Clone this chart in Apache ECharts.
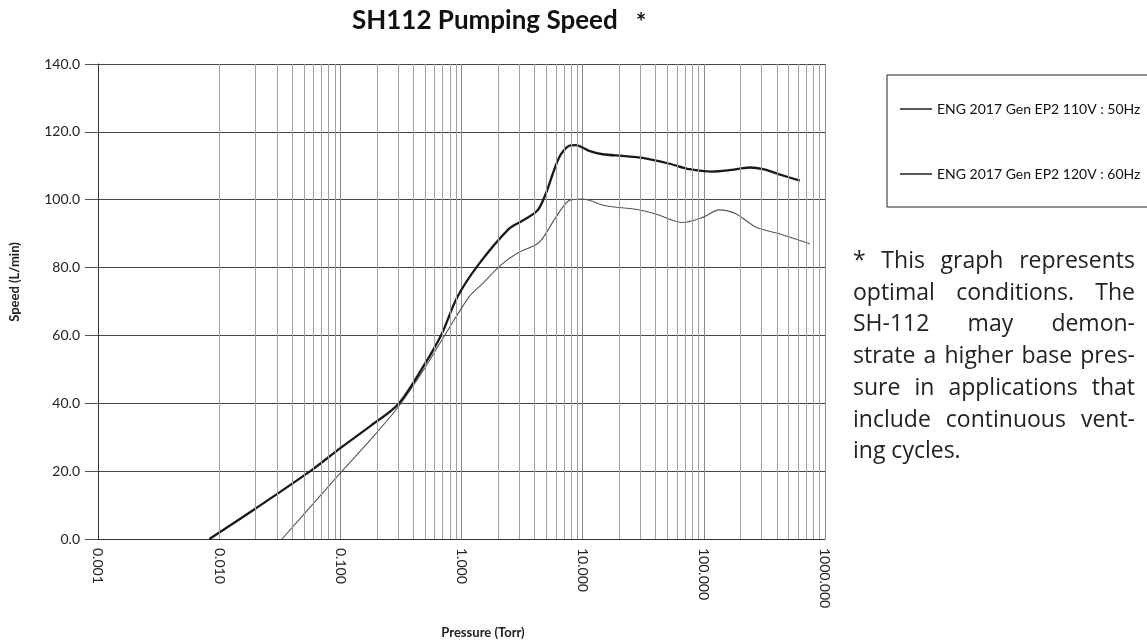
<!DOCTYPE html>
<html>
<head>
<meta charset="utf-8">
<script src="https://cdn.jsdelivr.net/npm/echarts@6/dist/echarts.min.js"></script>
<style>
  html, body { margin: 0; padding: 0; background: #fff; }
  #main { width: 1147px; height: 643px; }
</style>
</head>
<body>
<div id="main"></div>
<script>
// pressure (Torr) / speed (L/min)
var p50 = [0.033, 0.06, 0.102, 0.18, 0.30, 0.5, 0.74, 1.15, 1.48, 2.17, 2.98, 4.37, 6.0, 7.7, 9.96, 15.5, 27.5, 40, 67, 98, 134, 185, 270, 426, 750];
var s50 = [0, 10.5, 19.8, 29.5, 38.9, 50.5, 60.5, 71.3, 75.2, 81.1, 84.5, 87.4, 94.8, 99.7, 100.2, 98.2, 97.2, 95.8, 93.3, 94.8, 97.0, 95.8, 91.9, 89.9, 87.0];
var p60 = [0.0083, 0.02, 0.058, 0.1, 0.18, 0.3, 0.5, 0.69, 0.92, 1.39, 2.46, 3.18, 4.23, 4.95, 6.38, 7.73, 8.75, 11.3, 14.6, 21.4, 31.3, 52, 76, 117.7, 162, 240, 309, 426, 620];
var s60 = [0, 9.0, 20.3, 26.8, 33.5, 39.7, 51.7, 60.6, 71.2, 81.0, 91.4, 93.8, 96.8, 101.7, 112.4, 115.9, 116.1, 114.4, 113.4, 112.9, 112.3, 110.6, 109.0, 108.3, 108.7, 109.5, 109.0, 107.4, 105.6];
var names = ['ENG 2017 Gen EP2 110V : 50Hz', 'ENG 2017 Gen EP2 120V : 60Hz'];
var yTicks = [0, 20, 40, 60, 80, 100, 120, 140];

var note = [
  '* This graph represents',
  'optimal conditions. The',
  'SH-112 may demon-',
  'strate a higher base pres-',
  'sure in applications that',
  'include continuous vent-',
  'ing cycles.'
];

function pairs(xs, ys) {
  return xs.map(function (x, i) { return [x, ys[i]]; });
}

// minor log gridlines 2..9 per decade
var minor = [];
for (var e = -3; e < 3; e++) {
  for (var m = 2; m <= 9; m++) {
    minor.push({ xAxis: +(m * Math.pow(10, e)).toPrecision(3) });
  }
}

// justified note text, font sized so the widest line fits the column
var noteLeft = 853, noteWidth = 282, noteTop = 250, noteLH = 31.7;
var ctx = document.createElement('canvas').getContext('2d');
ctx.font = '22px "Open Sans"';
var widest = Math.max.apply(null, note.map(function (l) { return ctx.measureText(l).width; }));
var noteSize = Math.min(23, 22 * noteWidth / widest);
var noteFont = noteSize.toFixed(1) + 'px "Open Sans"';
ctx.font = noteFont;
var noteEls = [];
note.forEach(function (line, li) {
  var words = line.split(' ');
  var y = noteTop + li * noteLH;
  if (li === note.length - 1 || words.length < 2) {
    noteEls.push({ type: 'text', left: noteLeft, top: y, style: { text: line, font: noteFont, fill: '#222' } });
    return;
  }
  var widths = words.map(function (w) { return ctx.measureText(w).width; });
  var total = widths.reduce(function (a, b) { return a + b; }, 0);
  var gap = (noteWidth - total) / (words.length - 1);
  var x = noteLeft;
  words.forEach(function (w, wi) {
    noteEls.push({ type: 'text', left: x, top: y, style: { text: w, font: noteFont, fill: '#222' } });
    x += widths[wi] + gap;
  });
});

var chart = echarts.init(document.getElementById('main'));
var option = {
  animation: false,
  backgroundColor: '#fff',
  graphic: [
    { type: 'text', x: 352, y: 8, style: { text: 'SH112 Pumping Speed', font: 'bold 26px Lato', fill: '#111' } },
    { type: 'text', x: 636, y: 11, style: { text: '*', font: 'bold 24px Lato', fill: '#111' } },
    { type: 'text', x: 15, y: 282, rotation: Math.PI / 2,
      style: { text: 'Speed (L/min)', font: 'bold 13px Lato', fill: '#222', textAlign: 'center', textVerticalAlign: 'middle' } },
    { type: 'text', x: 483, y: 633,
      style: { text: 'Pressure (Torr)', font: 'bold 13px Lato', fill: '#222', textAlign: 'center', textVerticalAlign: 'middle' } }
  ].concat(noteEls),
  legend: {
    orient: 'vertical',
    left: 887,
    top: 75,
    padding: [27, 40, 26, 13],
    itemGap: 51,
    icon: 'rect',
    itemWidth: 32,
    itemHeight: 1.5,
    borderColor: '#222',
    borderWidth: 1,
    textStyle: { fontSize: 14, fontFamily: 'Lato', color: '#111' },
    data: names
  },
  grid: { left: 98, right: 322, top: 64, bottom: 104 },
  xAxis: {
    type: 'log',
    logBase: 10,
    min: 0.001,
    max: 1000,
    axisLine: { lineStyle: { color: '#333' } },
    axisTick: { show: false },
    axisLabel: {
      rotate: -90,
      fontSize: 14,
      fontFamily: 'Lato',
      color: '#222',
      margin: 9,
      formatter: function (v) { return v.toFixed(3); }
    },
    splitLine: { show: true, lineStyle: { color: '#888', width: 1 } }
  },
  yAxis: {
    type: 'value',
    min: 0,
    max: 140,
    interval: 20,
    axisLine: { show: true, lineStyle: { color: '#333' } },
    axisTick: { show: true, length: 13, lineStyle: { color: '#555' } },
    axisLabel: {
      fontSize: 14,
      fontFamily: 'Lato',
      color: '#222',
      margin: 18,
      formatter: function (v) { return yTicks.indexOf(v) >= 0 ? v.toFixed(1) : ''; }
    },
    splitLine: { show: true, lineStyle: { color: '#444', width: 1 } }
  },
  series: [
    {
      name: names[0],
      type: 'line',
      data: pairs(p50, s50),
      smooth: 0.3,
      symbol: 'none',
      lineStyle: { color: '#555', width: 1.1 },
      itemStyle: { color: '#222' },
      markLine: {
        silent: true,
        symbol: ['none', 'none'],
        label: { show: false },
        lineStyle: { color: '#a0a0a0', width: 1, type: 'solid' },
        data: minor
      },
      z: 3
    },
    {
      name: names[1],
      type: 'line',
      data: pairs(p60, s60),
      smooth: 0.3,
      symbol: 'none',
      lineStyle: { color: '#1a1a1a', width: 2.3 },
      itemStyle: { color: '#222' },
      z: 4
    }
  ]
};
chart.setOption(option);
</script>
</body>
</html>
